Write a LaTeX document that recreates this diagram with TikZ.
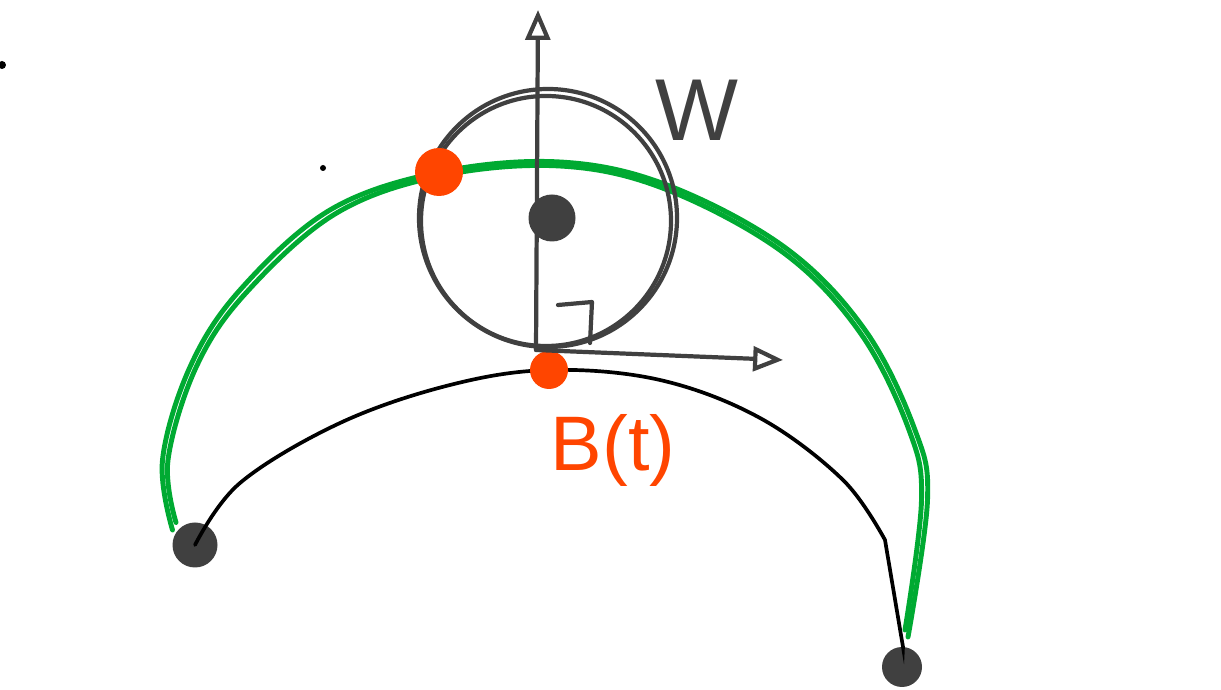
\documentclass[tikz,border=0pt]{standalone}
\usepackage{fontspec}
\setsansfont{Liberation Sans}
\usetikzlibrary{arrows.meta}
\definecolor{pen}{RGB}{64,64,64}
\definecolor{marker}{RGB}{255,69,0}
\definecolor{leaf}{RGB}{0,170,50}

\begin{document}
\begin{tikzpicture}[
    pen line/.style={pen, line width=2.4pt, line cap=round, line join=round},
    vec/.style={pen line, -{Triangle[open, length=17pt, width=14pt]}},
    dot/.style={circle, fill=pen, inner sep=0pt, minimum size=#1},
    hit/.style={circle, fill=marker, inner sep=0pt, minimum size=#1},
    leaf line/.style={leaf, line width=2.8pt, line cap=round}]
  \useasboundingbox (0,0) rectangle (24.42,13.8);
  % stray marks
  \node[dot=0.16cm, fill=black] (s1) at (0.04,12.5) {};
  \node[dot=0.12cm, fill=black] (s2) at (6.46,10.44) {};
  % end points of the path
  \node[dot=0.9cm] (lend) at (3.9,2.9) {};
  \node[dot=0.8cm] (rend) at (18.04,0.46) {};
  % black path
  \draw[black, line width=2.1pt, line cap=round]
      plot[smooth, tension=0.6] coordinates {(lend) (4.8,4.14) (6.8,5.34) (9,6.1)
        (11,6.4) (13.2,6.2) (15.2,5.44) (16.86,4.2) (17.7,3.0)}
      -- (18.06,0.86) -- (rend);
  % green arc, drawn twice
  \draw[leaf line] plot[smooth, tension=0.6] coordinates {(3.45,3.2) (3.25,4.6)
      (3.8,6.46) (4.8,8.0) (6.6,9.6) (8.8,10.36) (11.2,10.56) (13.34,10.1)
      (15.7,8.85) (17.3,7.2) (18.3,5.2) (18.55,3.8) (18.16,1.06)};
  \draw[leaf line] plot[smooth, tension=0.6] coordinates {(3.52,3.35) (3.36,4.6)
      (3.92,6.45) (4.9,7.92) (6.7,9.52) (8.8,10.28) (11.2,10.48) (13.3,10.02)
      (15.65,8.76) (17.2,7.15) (18.18,5.2) (18.43,3.8) (18.1,1.2)};
  % wheel
  \draw[pen line] (10.96,9.44) circle [radius=2.58];
  \draw[pen line] (10.92,9.38) circle [radius=2.5];
  \node[dot=0.94cm] (wc) at (11.04,9.44) {};
  % contact points
  \node[hit=0.96cm] (top) at (8.78,10.36) {};
  \node[hit=0.76cm] (contact) at (10.98,6.4) {};
  % vectors
  \coordinate (foot) at (10.72,6.8);
  \coordinate (up) at (10.76,13.6);
  \coordinate (tang) at (15.66,6.6);
  \draw[vec] (foot) -- (up);
  \draw[vec] (foot) -- (tang);
  \draw[pen line] (11.16,7.7) -- (11.84,7.76) -- (11.8,6.94);
  % labels
  \node[pen, font=\sffamily\fontsize{50}{50}\selectfont] (wlab) at (13.94,11.6) {W};
  \node[marker, font=\sffamily\fontsize{44}{44}\selectfont] (blab) at (12.26,4.8) {B(t)};
\end{tikzpicture}
\end{document}
